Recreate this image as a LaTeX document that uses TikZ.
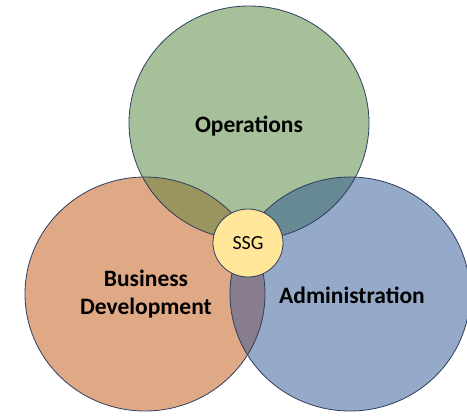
\documentclass[tikz,border=0pt]{standalone}
\usepackage{fontspec}
\setmainfont{Carlito}
\definecolor{cGreen}{HTML}{A6C09A}
\definecolor{cOrange}{HTML}{DFA986}
\definecolor{cBlue}{HTML}{95A9C9}
\definecolor{cGO}{HTML}{9A955F}
\definecolor{cGB}{HTML}{678994}
\definecolor{cOB}{HTML}{877D8C}
\definecolor{cSSG}{HTML}{FFE699}
\definecolor{cLine}{HTML}{2E3E5E}
\tikzset{
  outline/.style={draw=cLine, line width=0.8pt},
  bigtext/.style={font=\bfseries\fontsize{23.5}{28}\selectfont, align=center, text=black},
  smalltext/.style={font=\fontsize{20}{24}\selectfont, text=black}
}
\begin{document}
\begin{tikzpicture}[x=1pt,y=-1pt]
\useasboundingbox (0,0) rectangle (467,416);
\coordinate (G) at (249,123);
\coordinate (O) at (145,294);
\coordinate (B) at (350,294);
\def\rx{120}\def\ry{117}
% base fills
\fill[cGreen] (G) ellipse [x radius=\rx, y radius=\ry];
\fill[cOrange] (O) ellipse [x radius=\rx, y radius=\ry];
\fill[cBlue] (B) ellipse [x radius=\rx, y radius=\ry];
% overlaps
\begin{scope}
  \clip (G) ellipse [x radius=\rx, y radius=\ry];
  \fill[cGO] (O) ellipse [x radius=\rx, y radius=\ry];
  \fill[cGB] (B) ellipse [x radius=\rx, y radius=\ry];
\end{scope}
\begin{scope}
  \clip (O) ellipse [x radius=\rx, y radius=\ry];
  \fill[cOB] (B) ellipse [x radius=\rx, y radius=\ry];
\end{scope}
% outlines
\draw[outline] (G) ellipse [x radius=\rx, y radius=\ry];
\draw[outline] (O) ellipse [x radius=\rx, y radius=\ry];
\draw[outline] (B) ellipse [x radius=\rx, y radius=\ry];
% center
\draw[outline, fill=cSSG] (248,243) ellipse [x radius=35, y radius=34];
\node[smalltext] (ssg) at (248,243) {SSG};
\node[bigtext] (ops) at (249,126) {Operations};
\node[bigtext] (bd) at (146,294) {Business\\Development};
\node[bigtext] (adm) at (352,295) {Administration};
\end{tikzpicture}
\end{document}
